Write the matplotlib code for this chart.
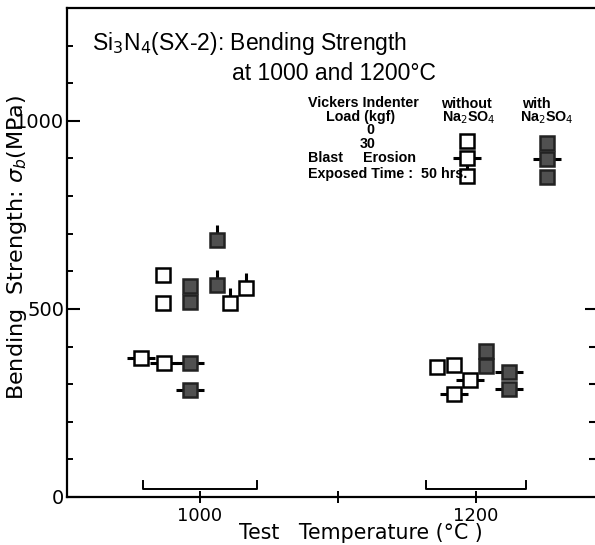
import numpy as np
import matplotlib
matplotlib.use('Agg')
import matplotlib.pyplot as plt
from matplotlib.path import Path

# 读图得到的数据 (温度 degC, 强度 MPa)
# 空心 = without Na2SO4, 实心 = with Na2SO4
# plain = 0 kgf, bar = 30 kgf, tick = blast erosion
open_plain_t = [973, 973, 1172, 1184]
open_plain_v = [589, 515, 345, 352]
open_bar_t = [957, 974, 1184, 1196]
open_bar_v = [370, 357, 274, 311]
open_tick_t = [1022, 1033]
open_tick_v = [515, 555]
fill_plain_t = [993, 993, 1207, 1207]
fill_plain_v = [562, 519, 389, 348]
fill_bar_t = [993, 993, 1224, 1224]
fill_bar_v = [357, 285, 332, 286]
fill_tick_t = [1012, 1012]
fill_tick_v = [682, 564]

# 温度范围括号
bracket_lo = [959, 1164]
bracket_hi = [1041, 1236]

xticks = [1000, 1100, 1200]
xticklabels = ['1000', '', '1200']
yticks = [0, 500, 1000]

W, H = 595, 545
fig = plt.figure(figsize=(W / 100, H / 100), dpi=100)
ax = fig.add_axes([67 / W, 48 / H, 530 / W, 489 / H])
ax.set_xlim(903.6, 1287.7)
ax.set_ylim(0, 1300)

FILL = '#505050'
tick_marker = Path([(0, 0), (0, 1)])


def draw(axis, ts, vs, filled, kind, **kw):
    if kind == 'bar':
        axis.plot(ts, vs, ls='none', marker='_', ms=20, mew=2.2, color='k', zorder=2, **kw)
    if kind == 'tick':
        axis.plot(ts, vs, ls='none', marker=tick_marker, ms=22, mew=2.2, color='k', zorder=2, **kw)
    axis.plot(ts, vs, ls='none', marker='s', ms=9.5,
              mfc=FILL if filled else 'white', mec='#222222' if filled else 'k',
              mew=1.8, zorder=3, **kw)


draw(ax, open_plain_t, open_plain_v, False, 'plain')
draw(ax, open_bar_t, open_bar_v, False, 'bar')
draw(ax, open_tick_t, open_tick_v, False, 'tick')
draw(ax, fill_plain_t, fill_plain_v, True, 'plain')
draw(ax, fill_bar_t, fill_bar_v, True, 'bar')
draw(ax, fill_tick_t, fill_tick_v, True, 'tick')

for lo, hi in zip(bracket_lo, bracket_hi):
    ax.plot([lo, lo, hi, hi], [42, 22, 22, 42], color='k', lw=1.4)

# 坐标轴
for s in ['left', 'bottom', 'top']:
    ax.spines[s].set_linewidth(1.6)
ax.spines['right'].set_visible(False)

ax.set_xticks(xticks)
ax.set_xticklabels(xticklabels)
ax.set_yticks(yticks)
ax.set_yticks(np.arange(100, 1300, 100), minor=True)
ax.tick_params(axis='x', direction='inout', length=8, width=1.4, pad=3, labelsize=13)
ax.tick_params(axis='y', which='major', direction='in', length=9, width=1.5, pad=2, labelsize=14)
ax.tick_params(axis='y', which='minor', direction='in', length=4, width=1.4)
for lab in ax.get_xticklabels() + ax.get_yticklabels():
    lab.set_family(['Liberation Sans Narrow', 'DejaVu Sans'])

# 右侧刻度
ax2 = ax.twinx()
ax2.set_ylim(0, 1300)
ax2.set_yticks([500])
ax2.set_yticks([100, 200, 300, 400], minor=True)
ax2.set_yticklabels([])
ax2.tick_params(axis='y', which='major', direction='in', length=9, width=1.5)
ax2.tick_params(axis='y', which='minor', direction='in', length=6, width=1.5)
for s in ax2.spines.values():
    s.set_visible(False)

ax.set_ylabel('Bending  Strength: $\\sigma_b$(MPa)', fontsize=16)
ax.yaxis.set_label_coords(-0.072, 0.51)
fig.text(361 / W, 1 - 533 / H, 'Test   Temperature (°C )', fontsize=14.8,
         ha='center', va='center')

# 标题
tfont = ['Liberation Sans', 'DejaVu Sans']
fig.text(92 / W, 1 - 43 / H, 'Si$_3$N$_4$(SX-2): Bending Strength', fontsize=16.5,
         family=tfont, ha='left', va='center')
fig.text(232 / W, 1 - 73 / H, 'at 1000 and 1200°C', fontsize=16.5,
         family=tfont, ha='left', va='center')

# 图例
lfont = ['Liberation Sans Narrow', 'Liberation Sans']
lkw = dict(fontsize=10.3, family=lfont, weight='bold', va='center')
fig.text(308 / W, 1 - 103 / H, 'Vickers Indenter', ha='left', **lkw)
fig.text(361 / W, 1 - 117 / H, 'Load (kgf)', ha='center', **lkw)
fig.text(370 / W, 1 - 130 / H, '0', ha='center', **lkw)
fig.text(368 / W, 1 - 144 / H, '30', ha='center', **lkw)
fig.text(308 / W, 1 - 158 / H, 'Blast     Erosion', ha='left', **lkw)
fig.text(308 / W, 1 - 174 / H, 'Exposed Time :  50 hrs.', ha='left', **lkw)
fig.text(466 / W, 1 - 104 / H, 'without', ha='center', **lkw)
fig.text(469 / W, 1 - 118 / H, 'Na$_2$SO$_4$', ha='center', **lkw)
fig.text(522 / W, 1 - 104 / H, 'with', ha='left', **lkw)
fig.text(520 / W, 1 - 118 / H, 'Na$_2$SO$_4$', ha='left', **lkw)

tf = fig.transFigure
draw(ax, [467 / W], [1 - 141 / H], False, 'plain', transform=tf, clip_on=False)
draw(ax, [467 / W], [1 - 158 / H], False, 'bar', transform=tf, clip_on=False)
draw(ax, [467 / W], [1 - 176 / H], False, 'tick', transform=tf, clip_on=False)
draw(ax, [547 / W], [1 - 143 / H], True, 'plain', transform=tf, clip_on=False)
draw(ax, [547 / W], [1 - 159 / H], True, 'bar', transform=tf, clip_on=False)
draw(ax, [547 / W], [1 - 177 / H], True, 'plain', transform=tf, clip_on=False)

fig.savefig('out.png', dpi=100)
